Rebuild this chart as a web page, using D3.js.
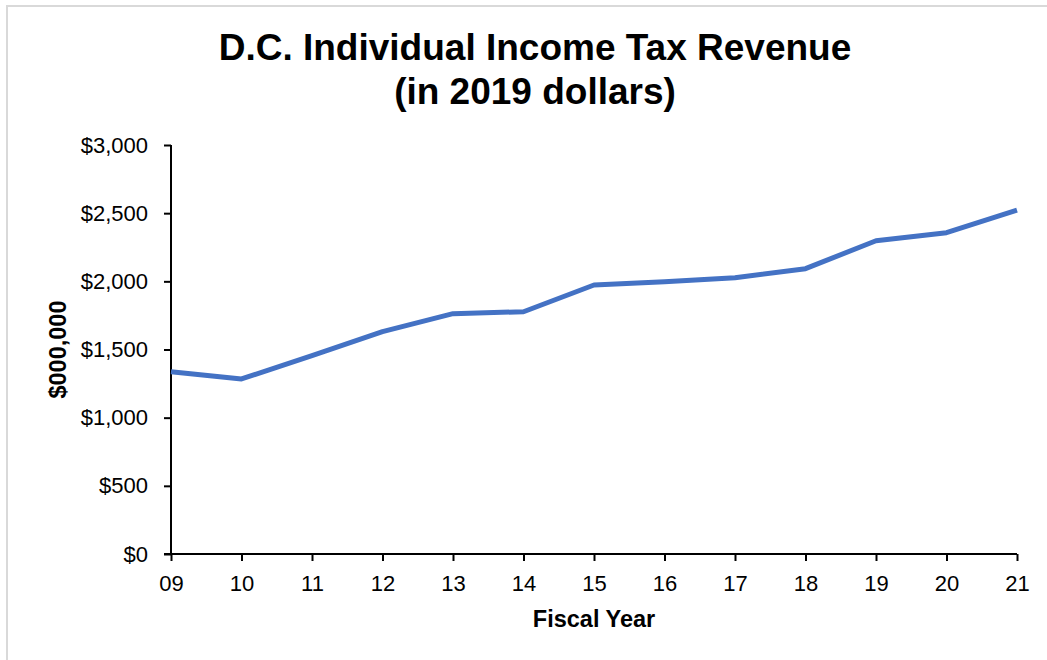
<!DOCTYPE html>
<html>
<head>
<meta charset="utf-8">
<script src="https://cdn.jsdelivr.net/npm/d3@7"></script>
<style>
  html, body { margin: 0; padding: 0; background: #fff; }
  svg { display: block; font-family: "Liberation Sans", Arial, sans-serif; }
</style>
</head>
<body>
<script>
// Fiscal years (two-digit labels) and revenue in $ millions, 2019 dollars
const fiscalYears = ["09", "10", "11", "12", "13", "14", "15", "16", "17", "18", "19", "20", "21"];
const revenue = [1337, 1284, 1455, 1631, 1763, 1777, 1973, 1997, 2027, 2093, 2298, 2357, 2523];
const yTicks = [0, 500, 1000, 1500, 2000, 2500, 3000];
const titleLines = ["D.C. Individual Income Tax Revenue", "(in 2019 dollars)"];
const xTitle = "Fiscal Year";
const yTitle = "$000,000";

const W = 1047, H = 660;
const margin = { left: 171, right: 30, top: 145, bottom: 106 };
const FONT = "Liberation Sans, Arial, sans-serif";

const svg = d3.select("body").append("svg")
  .attr("width", W).attr("height", H);

// chart frame
svg.append("rect")
  .attr("x", 7).attr("y", 6)
  .attr("width", W + 10).attr("height", H + 10)
  .attr("fill", "#fff")
  .attr("stroke", "#d9d9d9").attr("stroke-width", 2);

const x = d3.scalePoint()
  .domain(fiscalYears)
  .range([margin.left, W - margin.right]);

const y = d3.scaleLinear()
  .domain([0, 3000])
  .range([H - margin.bottom, margin.top]);

// title
svg.append("text")
  .attr("text-anchor", "middle")
  .attr("font-weight", "bold").attr("font-size", 37).attr("fill", "#000")
  .selectAll("tspan").data(titleLines).join("tspan")
  .attr("x", 535)
  .attr("y", (d, i) => 60 + i * 44)
  .text(d => d);

// y axis
const yAxis = d3.axisLeft(y)
  .tickValues(yTicks)
  .tickSize(7)
  .tickPadding(16)
  .tickFormat(d => "$" + d3.format(",")(d));

svg.append("g")
  .attr("transform", `translate(${margin.left},0)`)
  .call(yAxis)
  .attr("font-size", 22).attr("font-family", FONT)
  .call(g => g.select(".domain").attr("stroke", "#000").attr("stroke-width", 2).attr("d", `M0,${y(0)}V${y(3000)}`))
  .call(g => g.selectAll(".tick line").attr("stroke", "#000").attr("stroke-width", 2))
  .call(g => g.selectAll(".tick text").attr("fill", "#000"));

// x axis
const xAxis = d3.axisBottom(x)
  .tickSize(7)
  .tickPadding(14);

svg.append("g")
  .attr("transform", `translate(0,${y(0)})`)
  .call(xAxis)
  .attr("font-size", 22).attr("font-family", FONT)
  .call(g => g.select(".domain").attr("stroke", "#000").attr("stroke-width", 2)
    .attr("d", `M${margin.left - 7},0H${W - margin.right}`))
  .call(g => g.selectAll(".tick line").attr("stroke", "#000").attr("stroke-width", 2))
  .call(g => g.selectAll(".tick text").attr("fill", "#000"));

// axis titles
svg.append("text")
  .attr("x", (margin.left + W - margin.right) / 2)
  .attr("y", 627)
  .attr("text-anchor", "middle")
  .attr("font-weight", "bold").attr("font-size", 23.5)
  .text(xTitle);

svg.append("text")
  .attr("transform", `translate(66,${(y(0) + y(3000)) / 2}) rotate(-90)`)
  .attr("text-anchor", "middle")
  .attr("font-weight", "bold").attr("font-size", 23.5)
  .text(yTitle);

// revenue line
const line = d3.line()
  .x((d, i) => x(fiscalYears[i]))
  .y(d => y(d));

svg.append("path")
  .datum(revenue)
  .attr("fill", "none")
  .attr("stroke", "#4472C4")
  .attr("stroke-width", 5)
  .attr("stroke-linejoin", "round")
  .attr("d", line);
</script>
</body>
</html>
